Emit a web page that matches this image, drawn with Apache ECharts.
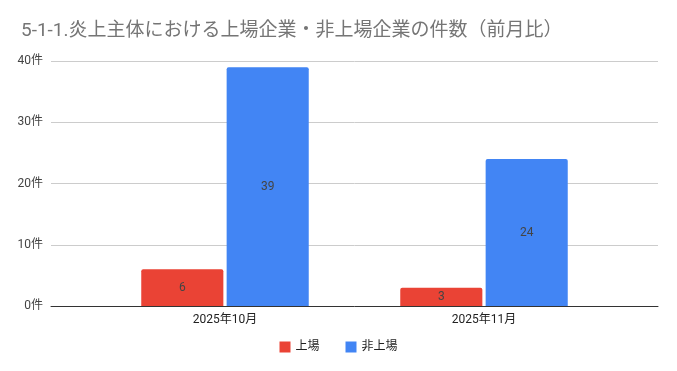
<!DOCTYPE html>
<html><head><meta charset="utf-8">
<script src="https://cdn.jsdelivr.net/npm/echarts@6/dist/echarts.min.js"></script>
<style>html,body{margin:0;padding:0;background:#fff}#c{width:677px;height:371px}</style>
</head><body><div id="c"></div>
<script>
const categories = ['2025年10月', '2025年11月'];
const listed = [6, 3];
const unlisted = [39, 24];
const yTicks = [0, 10, 20, 30, 40];
const seriesNames = ['上場', '非上場'];

const font = "Roboto, 'Noto Sans CJK JP', sans-serif";
const chart = echarts.init(document.getElementById('c'));
chart.setOption({
  backgroundColor: '#fff',
  animation: false,
  title: {
    text: '5-1-1.炎上主体における上場企業・非上場企業の件数（前月比）',
    left: 16, top: 17,
    textStyle: { fontFamily: font, fontSize: 19, fontWeight: 'normal', color: '#757575' }
  },
  legend: {
    bottom: 13, left: 'center',
    icon: 'rect', itemWidth: 11, itemHeight: 11, itemGap: 26,
    textStyle: { fontFamily: font, fontSize: 12, color: '#222' },
    data: seriesNames
  },
  grid: [
    { left: 95.5, width: 518, top: 61, height: 245 },
    { left: 51, width: 607, top: 61, height: 245 }
  ],
  xAxis: [
    { type: 'category', gridIndex: 0, data: categories,
      axisLine: { show: false }, axisTick: { show: false },
      axisLabel: { fontFamily: font, fontSize: 12, color: '#222', margin: 8 } },
    { type: 'value', gridIndex: 1, min: 0, max: 1,
      axisLine: { show: true, lineStyle: { color: '#333', width: 1 } },
      axisTick: { show: false }, axisLabel: { show: false }, splitLine: { show: false } }
  ],
  yAxis: [
    { type: 'value', gridIndex: 0, min: 0, max: 40, interval: 10,
      axisLine: { show: false }, axisTick: { show: false },
      axisLabel: { show: false }, splitLine: { show: false } },
    { type: 'value', gridIndex: 1, min: yTicks[0], max: yTicks[yTicks.length - 1], interval: 10,
      axisLine: { show: false }, axisTick: { show: false },
      axisLabel: { fontFamily: font, fontSize: 12, color: '#444', margin: 8, formatter: v => v + '件' },
      splitLine: { lineStyle: { color: '#cccccc', width: 1 } } }
  ],
  series: [
    { name: seriesNames[0], type: 'bar', xAxisIndex: 0, yAxisIndex: 0, data: listed,
      barWidth: '31.7%', barGap: '4%',
      itemStyle: { color: '#EA4335', borderRadius: [2, 2, 0, 0] },
      label: { show: true, position: 'inside', fontFamily: font, fontSize: 12, color: '#444' } },
    { name: seriesNames[1], type: 'bar', xAxisIndex: 0, yAxisIndex: 0, data: unlisted,
      barWidth: '31.7%', barGap: '4%',
      itemStyle: { color: '#4285F4', borderRadius: [2, 2, 0, 0] },
      label: { show: true, position: 'inside', fontFamily: font, fontSize: 12, color: '#444' } }
  ]
});
</script></body></html>
